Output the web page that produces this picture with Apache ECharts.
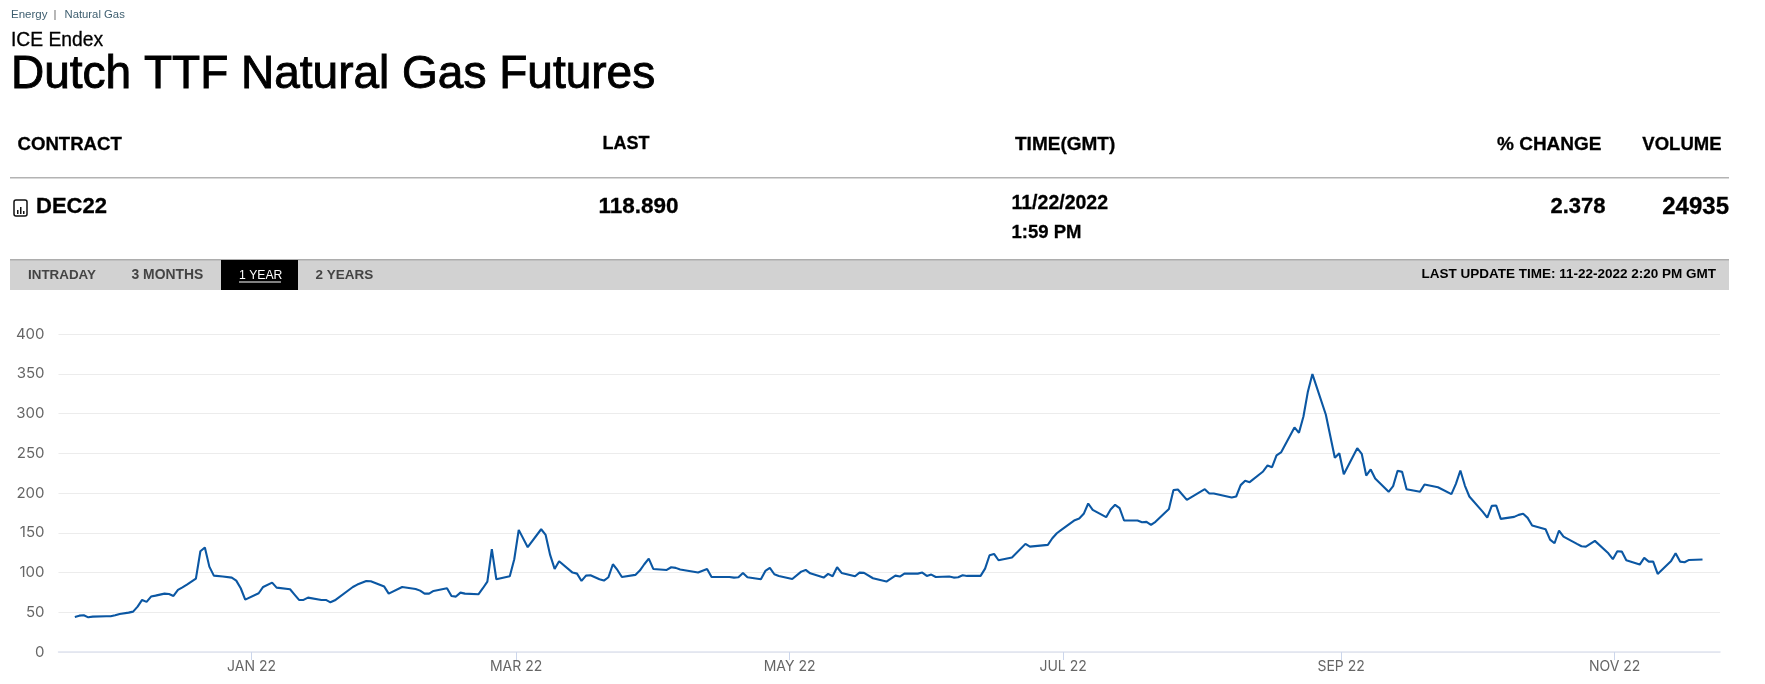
<!DOCTYPE html>
<html><head><meta charset="utf-8">
<style>html,body{margin:0;padding:0;background:#fff}#c{width:1765px;height:684px}</style>
<script src="https://cdn.jsdelivr.net/npm/echarts@6/dist/echarts.min.js"></script>
</head><body><div id="c"></div>
<script>
const dates = ['2021-11-22','2021-11-23','2021-11-24','2021-11-25','2021-11-26','2021-11-29','2021-11-30','2021-12-01','2021-12-02','2021-12-04','2021-12-05','2021-12-06','2021-12-07','2021-12-08','2021-12-09','2021-12-10','2021-12-12','2021-12-13','2021-12-14','2021-12-15','2021-12-16','2021-12-17','2021-12-19','2021-12-20','2021-12-21','2021-12-22','2021-12-23','2021-12-25','2021-12-27','2021-12-28','2021-12-29','2021-12-30',
'2022-01-02','2022-01-03','2022-01-05','2022-01-06','2022-01-09','2022-01-10','2022-01-11','2022-01-12','2022-01-13','2022-01-16','2022-01-17','2022-01-18','2022-01-19','2022-01-23','2022-01-24','2022-01-26','2022-01-27','2022-01-30','2022-01-31',
'2022-02-03','2022-02-06','2022-02-07','2022-02-08','2022-02-09','2022-02-10','2022-02-13','2022-02-14','2022-02-15','2022-02-16','2022-02-17','2022-02-20','2022-02-21','2022-02-22','2022-02-23','2022-02-24','2022-02-27','2022-02-28',
'2022-03-01','2022-03-03','2022-03-06','2022-03-07','2022-03-08','2022-03-09','2022-03-10','2022-03-13','2022-03-14','2022-03-15','2022-03-16','2022-03-17','2022-03-19','2022-03-20','2022-03-21','2022-03-22','2022-03-23','2022-03-24','2022-03-27','2022-03-28','2022-03-29','2022-03-30','2022-03-31',
'2022-04-03','2022-04-04','2022-04-05','2022-04-06','2022-04-10','2022-04-12','2022-04-13','2022-04-17','2022-04-18','2022-04-19','2022-04-20','2022-04-21','2022-04-24','2022-04-25','2022-04-26','2022-04-27','2022-04-28',
'2022-05-01','2022-05-03','2022-05-04','2022-05-05','2022-05-08','2022-05-09','2022-05-10','2022-05-11','2022-05-12','2022-05-15','2022-05-16','2022-05-17','2022-05-19','2022-05-22','2022-05-24','2022-05-25','2022-05-26','2022-05-29','2022-05-30','2022-05-31',
'2022-06-01','2022-06-02','2022-06-05','2022-06-06','2022-06-07','2022-06-08','2022-06-09','2022-06-12','2022-06-13','2022-06-14','2022-06-15','2022-06-16','2022-06-19','2022-06-22','2022-06-23','2022-06-27','2022-06-28','2022-06-29','2022-06-30',
'2022-07-03','2022-07-04','2022-07-05','2022-07-06','2022-07-07','2022-07-10','2022-07-11','2022-07-12','2022-07-13','2022-07-14','2022-07-17','2022-07-18','2022-07-19','2022-07-20','2022-07-21','2022-07-24','2022-07-25','2022-07-26','2022-07-28',
'2022-08-01','2022-08-02','2022-08-03','2022-08-07','2022-08-08','2022-08-09','2022-08-10','2022-08-11','2022-08-14','2022-08-15','2022-08-16','2022-08-17','2022-08-18','2022-08-21','2022-08-22','2022-08-23','2022-08-24','2022-08-25','2022-08-28','2022-08-30','2022-08-31',
'2022-09-01','2022-09-04','2022-09-05','2022-09-06','2022-09-07','2022-09-08','2022-09-11','2022-09-12','2022-09-13','2022-09-14','2022-09-15','2022-09-18','2022-09-19','2022-09-22','2022-09-25','2022-09-26','2022-09-27','2022-09-28','2022-09-29',
'2022-10-02','2022-10-03','2022-10-04','2022-10-05','2022-10-06','2022-10-09','2022-10-10','2022-10-11','2022-10-12','2022-10-13','2022-10-16','2022-10-17','2022-10-18','2022-10-19','2022-10-20','2022-10-23','2022-10-24','2022-10-25','2022-10-27','2022-10-30','2022-10-31',
'2022-11-01','2022-11-02','2022-11-03','2022-11-06','2022-11-07','2022-11-08','2022-11-09','2022-11-10','2022-11-13','2022-11-14','2022-11-15','2022-11-16','2022-11-17','2022-11-20'];
const prices = [44.1,45.7,46.2,43.6,44.5,44.9,44.9,46.2,47.8,49.5,50.8,57.1,65.5,63,69.7,70.9,73.4,73,70.5,78.1,81.4,84.8,92.3,126.7,131.4,107.4,96.1,94.9,93.6,89.8,80.2,65.9,
73.9,81.8,87.3,81,78.9,72.2,65.5,65.5,68.4,65.5,65.5,62.5,65,81.8,84.8,89.4,89,82.3,73.4,
81.8,79.3,77.2,73.4,73.4,76.8,80.2,70.5,69.7,74.7,73.4,72.6,80.2,88.6,129.3,91.5,95.3,116.7,
153.6,131.8,154.4,147.3,122.1,104.5,114.2,99.9,98.6,89.4,96.1,96.5,91.5,89.8,94,110.4,103.2,94.4,97,102.4,110.4,117.5,104.5,
103.2,106.6,105.8,103.7,99.9,104.5,94.4,94.4,93.6,94,99.5,94,91.5,102,105.8,97.8,95.7,
91.9,101.1,103.2,99,93.6,98.2,95.3,106.6,99.5,95.3,99.9,99.5,92.8,88.6,96.1,94.9,98.6,98.6,99.9,95.7,
97.4,94.4,94.9,93.6,94,96.5,95.7,95.7,104.9,121.7,123.4,115.4,118.8,136,132.6,134.7,143.1,149.4,153.6,
165.8,167.9,173.8,186.8,178.8,169.6,179.2,185.1,180.9,165.4,165.4,163.3,163.7,159.9,163.7,180,203.6,204.4,191.4,
204.8,199.4,199.4,194.3,195.6,209.9,215.3,213.6,227.1,234.6,232.5,247.2,251,282.5,275.7,296.3,327.8,349.6,298.4,244.3,250.1,
223.7,256.4,249.3,222,229.6,218.2,201.5,208.6,227.9,226.6,204.8,201.5,210.7,207.3,198.5,211.5,228.3,209.4,195.6,
176.3,169.1,183.8,184.2,167.5,170,172.5,173.8,168.7,159.1,154.4,141.4,136.8,152.8,145.2,136,133,132.6,139.8,124.2,116.7,
126.7,126.3,115.4,110,118.4,113.7,113.7,98.2,114.6,124.2,113.7,112.9,115.8,116.3];
const tickDates = ['2022-01-01','2022-03-01','2022-05-01','2022-07-01','2022-09-01','2022-11-01'];
const tickLabels = ['JAN 22','MAR 22','MAY 22','JUL 22','SEP 22','NOV 22'];
const tabs = ['INTRADAY','3 MONTHS','1 YEAR','2 YEARS'];

const ms = s => Date.parse(s + 'T00:00:00Z');
const seriesData = dates.map((d, i) => [Date.parse(d + 'T14:24:00Z'), prices[i]]);
const tickMs = tickDates.map(ms);
const F = '"Liberation Sans", Arial, sans-serif';

function T(text, x, y, size, opt) {
  opt = opt || {};
  const style = {
    text, fontFamily: opt.family || F, fontSize: size, fontWeight: opt.weight || 'normal',
    fill: opt.color || '#000', align: opt.align || 'left', verticalAlign: 'middle' };
  if (opt.heavy) { style.stroke = opt.color || '#000'; style.lineWidth = opt.heavy; }
  return { type: 'text', x, y, silent: true, style };
}
function R(x, y, w, h, fill) {
  return { type: 'rect', silent: true, shape: { x, y, width: w, height: h }, style: { fill } };
}
const H = { weight: 'bold', heavy: 0.3 };
const HR = { weight: 'bold', heavy: 0.3, align: 'right' };
const graphics = [
  T('Energy', 11, 15, 11.5, {color:'#3f5f70'}),
  T('|', 53.5, 15, 11.5, {color:'#6b6b6b'}),
  T('Natural Gas', 64.5, 15, 11.3, {color:'#3f5f70'}),
  T('ICE Endex', 11, 40.5, 19.3, {heavy: 0.3}),
  T('Dutch TTF Natural Gas Futures', 11, 75, 46, {heavy: 0.9}),
  T('CONTRACT', 17.5, 144.5, 18.6, H),
  T('LAST', 602.5, 144.5, 18, H),
  T('TIME(GMT)', 1015, 144.5, 19, H),
  T('% CHANGE', 1601.5, 144.5, 19, HR),
  T('VOLUME', 1721.5, 144.5, 18.5, HR),
  R(10, 177, 1719, 1.5, '#b3b3b3'),
  { type:'rect', silent:true, shape:{x:14,y:200,width:13,height:16,r:2}, style:{fill:'none',stroke:'#111',lineWidth:1.5} },
  R(17, 210, 1.5, 4, '#111'), R(20, 207, 1.5, 7, '#111'), R(23, 211, 1.5, 3, '#111'),
  T('DEC22', 36, 207, 22, H),
  T('118.890', 598.5, 207, 22.5, H),
  T('11/22/2022', 1011.5, 204, 19.5, H),
  T('1:59 PM', 1011.5, 233, 18.5, H),
  T('2.378', 1605.5, 207, 22, HR),
  T('24935', 1729, 207, 24, HR),
  R(10, 260, 1719, 30, '#d2d2d2'),
  R(10, 259, 1719, 1.5, '#adadad'),
  R(221, 260, 77, 30, '#000'),
  T(tabs[0], 28, 275.5, 13.4, {weight:'bold', color:'#444'}),
  T(tabs[1], 131.5, 275.5, 13.9, {weight:'bold', color:'#444'}),
  T(tabs[2], 239, 275.5, 12.2, {color:'#fff'}),
  R(239, 281.5, 42, 1, '#fff'),
  T(tabs[3], 315.5, 275.5, 13.5, {weight:'bold', color:'#444'}),
  T('LAST UPDATE TIME: 11-22-2022 2:20 PM GMT', 1716, 274, 13.5, {weight:'bold', align:'right'})
];

const chart = echarts.init(document.getElementById('c'));
chart.setOption({
  animation: false,
  backgroundColor: '#fff',
  grid: { left: 58.5, right: 45, top: 334, bottom: 32, containLabel: false },
  xAxis: {
    type: 'value',
    min: Date.UTC(2021, 10, 18, 23),
    max: Date.UTC(2022, 10, 24, 12),
    axisLine: { onZero: false, lineStyle: { color: '#dfe3f0', width: 1.5 } },
    axisTick: { customValues: tickMs, length: 8, lineStyle: { color: '#ccd6eb', width: 1 } },
    axisLabel: {
      customValues: tickMs, color: '#666', fontFamily: 'Inter, ' + F, fontSize: 14, margin: 8,
      formatter: v => tickLabels[tickMs.indexOf(+v)] || ''
    },
    splitLine: { show: false }
  },
  yAxis: {
    type: 'value', min: 0, max: 400, interval: 50,
    axisLine: { show: false }, axisTick: { show: false },
    axisLabel: { color: '#666', fontFamily: 'Inter, ' + F, fontSize: 15, margin: 14 },
    splitLine: { lineStyle: { color: '#ececec', width: 1.2 } }
  },
  series: [{
    type: 'line', data: seriesData, showSymbol: false, symbol: 'none', smooth: false,
    lineStyle: { color: '#0b57a3', width: 2.1 }, z: 5
  }],
  graphic: graphics
});
</script></body></html>
